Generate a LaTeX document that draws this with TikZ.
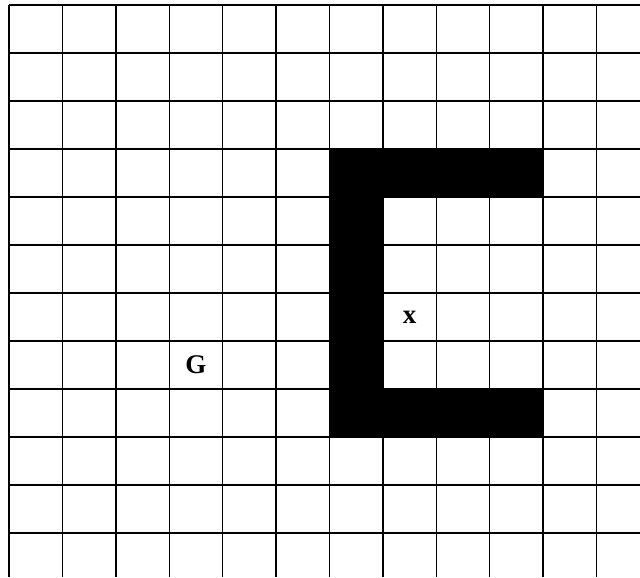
\documentclass[tikz,border=0pt]{standalone}
\usepackage{fontspec}
\setmainfont{Liberation Serif}
\begin{document}
\begin{tikzpicture}[x=1.602cm, y=1.44cm,
    cellmark/.style={font=\fontsize{23}{27}\selectfont\bfseries}]
    % Fix the page to the size of the scanned figure
    \useasboundingbox (-0.169, 0.104) rectangle (11.816, -11.917);

    % Obstacle (C shape) made of filled cells
    \fill[black] (6, -3) rectangle (10, -4);
    \fill[black] (6, -3) rectangle (7, -9);
    \fill[black] (6, -8) rectangle (10, -9);

    % The grid of cells
    \draw[line width=1.2pt, xstep=1.602cm, ystep=1.44cm] (0, 0) grid (11.816, -11.917);

    % Cell labels
    \node[cellmark] (goal) at (3.5, -7.5) {G};
    \node[cellmark] (start) at (7.5, -6.5) {x};
\end{tikzpicture}
\end{document}
